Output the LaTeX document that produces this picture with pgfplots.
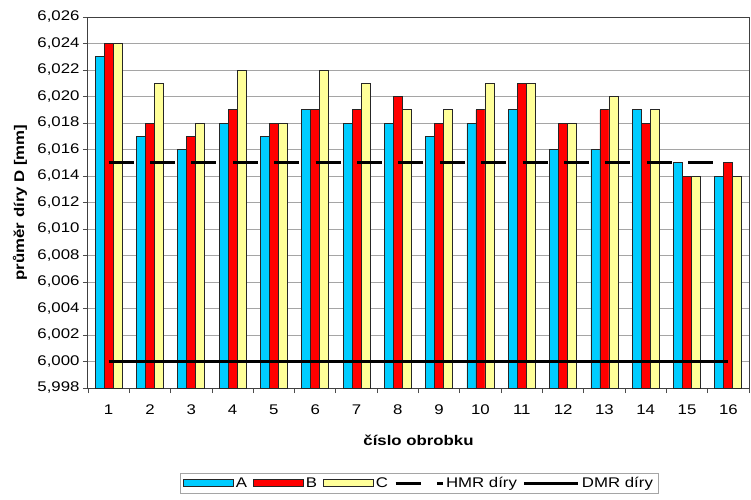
\documentclass[border=0pt]{standalone}
\usepackage{fontspec}
\setmainfont{Liberation Sans}[FakeStretch=1.2]
\usepackage{pgfplots}
\pgfplotsset{compat=1.18}
\definecolor{serA}{RGB}{0,204,255}
\definecolor{serB}{RGB}{255,0,0}
\definecolor{serC}{RGB}{255,255,153}
\definecolor{gridc}{RGB}{165,165,165}
\pgfplotsset{
  barleg/.style={legend image code/.code={\draw[##1,/tikz/.cd,yshift=0pt] (0pt,-3.5pt) rectangle (50pt,3.5pt);}},
  lineleg/.style={legend image code/.code={\draw[##1] (0pt,0pt) -- (#1,0pt);}},
}
\begin{document}
\begin{tikzpicture}
\path[use as bounding box] (-88pt,-111pt) rectangle (663pt,388pt);
\begin{axis}[
scale only axis,
width=661pt, height=371pt,
at={(0pt,0pt)}, anchor=south west,
xmin=0.5, xmax=16.5,
ymin=0, ymax=28,
y filter/.expression={(y-5.998)*1000},
xtick={0.5,1.5,...,16.5},
x tick label as interval,
xticklabels={1,2,3,4,5,6,7,8,9,10,11,12,13,14,15,16},
xticklabel style={yshift=-8pt},
ytick={0,2,...,28},
yticklabels={{5,998},{6,000},{6,002},{6,004},{6,006},{6,008},{6,010},{6,012},{6,014},{6,016},{6,018},{6,020},{6,022},{6,024},{6,026}},
tick label style={font=\fontsize{14}{16}\selectfont},
tick align=outside,
major tick length=5pt,
xtick pos=bottom, ytick pos=left,
tick style={black!70, line width=0.8pt},
ymajorgrids,
major grid style={gridc, line width=1pt},
axis line style={black!75, line width=1pt},
xlabel={\textbf{číslo obrobku}},
ylabel={\textbf{průměr díry D [mm]}},
label style={font=\fontsize{14}{16}\selectfont},
xlabel style={at={(axis description cs:0.5,-0.14)}, anchor=center},
ylabel style={at={(axis description cs:-0.1029,0.5)}, anchor=center},
legend columns=5,
legend style={at={(0.5008,-0.229)}, anchor=north, draw=gridc,
  font=\fontsize{14}{16}\selectfont, inner ysep=2pt, inner xsep=3pt,
  /tikz/every even column/.append style={column sep=4pt}},
]
\addplot[ybar, bar width=9pt, bar shift=-9pt, fill=serA, draw=black!85, line width=0.8pt, barleg]
coordinates {(1,6.023) (2,6.017) (3,6.016) (4,6.018) (5,6.017) (6,6.019) (7,6.018) (8,6.018)
(9,6.017) (10,6.018) (11,6.019) (12,6.016) (13,6.016) (14,6.019) (15,6.015) (16,6.014)};
\addlegendentry{A}
\addplot[ybar, bar width=9pt, bar shift=0pt, fill=serB, draw=black!85, line width=0.8pt, barleg]
coordinates {(1,6.024) (2,6.018) (3,6.017) (4,6.019) (5,6.018) (6,6.019) (7,6.019) (8,6.020)
(9,6.018) (10,6.019) (11,6.021) (12,6.018) (13,6.019) (14,6.018) (15,6.014) (16,6.015)};
\addlegendentry{B}
\addplot[ybar, bar width=9pt, bar shift=9pt, fill=serC, draw=black!85, line width=0.8pt, barleg]
coordinates {(1,6.024) (2,6.021) (3,6.018) (4,6.022) (5,6.018) (6,6.022) (7,6.021) (8,6.019)
(9,6.019) (10,6.021) (11,6.021) (12,6.018) (13,6.020) (14,6.019) (15,6.014) (16,6.014)};
\addlegendentry{C}
\addplot[black, line width=3pt, dash pattern=on 25pt off 16.4pt, mark=none, lineleg=47pt]
coordinates {(1,6.015) (16,6.015)};
\addlegendentry{HMR díry}
\addplot[black, line width=3pt, mark=none, lineleg=54pt]
coordinates {(1,6.000) (16,6.000)};
\addlegendentry{DMR díry}
\end{axis}
\end{tikzpicture}
\end{document}
